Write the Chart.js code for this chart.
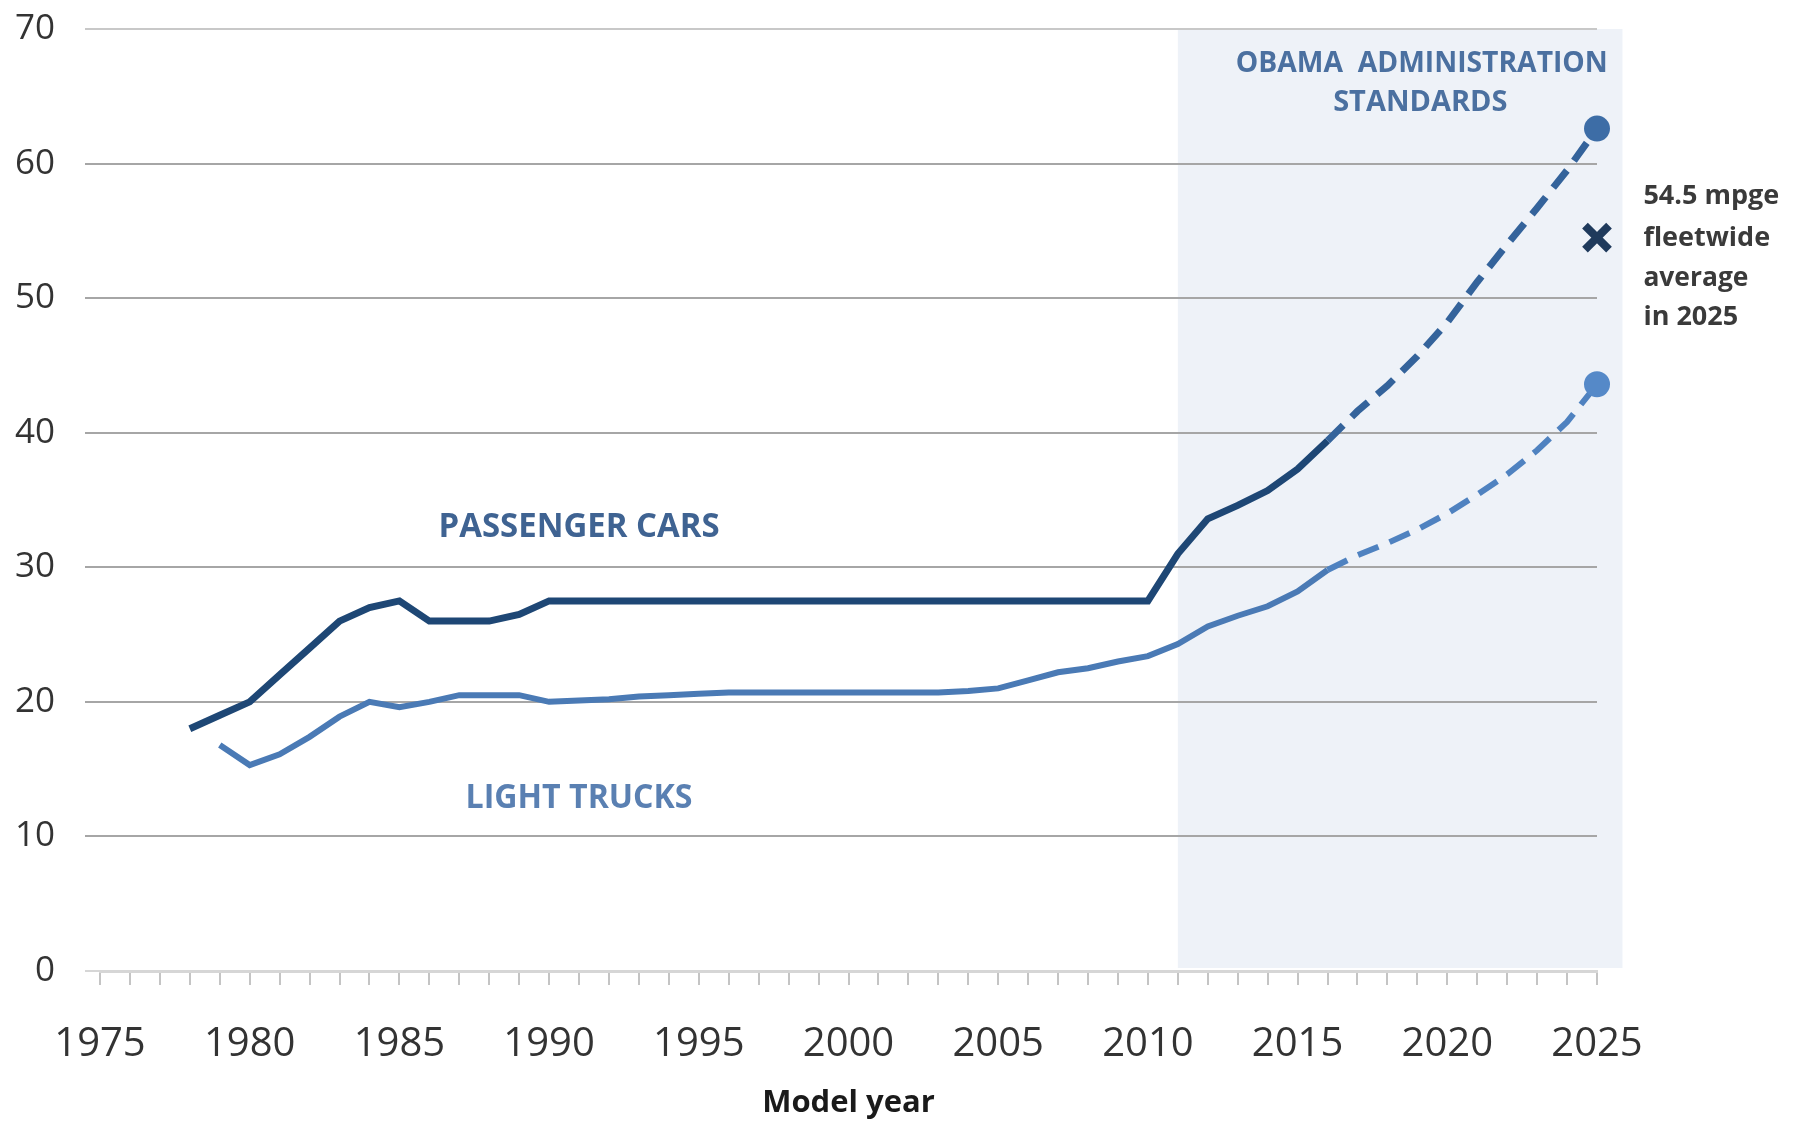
<!DOCTYPE html>
<html>
<head>
<meta charset="utf-8">
<title>Fuel economy standards</title>
<script src="https://cdn.jsdelivr.net/npm/chart.js@4.4.1/dist/chart.umd.min.js"></script>
<style>
  html, body { margin: 0; padding: 0; background: #ffffff; }
  #wrap { width: 1806px; height: 1125px; }
</style>
</head>
<body>
<div id="wrap"><canvas id="chart" width="1806" height="1125"></canvas></div>
<script>
// Fuel economy standards (mpg) by model year, passenger cars vs light trucks
const ctx = document.querySelector("#chart").getContext("2d");

const carYears = [
  1978, 1979, 1980, 1981, 1982, 1983, 1984, 1985, 1986, 1987, 1988, 1989,
  1990, 1991, 1992, 1993, 1994, 1995, 1996, 1997, 1998, 1999, 2000, 2001,
  2002, 2003, 2004, 2005, 2006, 2007, 2008, 2009, 2010, 2011, 2012, 2013,
  2014, 2015, 2016, 2017, 2018, 2019, 2020, 2021, 2022, 2023, 2024, 2025,
];
const carMpg = [
  18.0, 19.0, 20.0, 22.0, 24.0, 26.0, 27.0, 27.5, 26.0, 26.0, 26.0, 26.5,
  27.5, 27.5, 27.5, 27.5, 27.5, 27.5, 27.5, 27.5, 27.5, 27.5, 27.5, 27.5,
  27.5, 27.5, 27.5, 27.5, 27.5, 27.5, 27.5, 27.5, 27.5, 31.0, 33.6, 34.6,
  35.7, 37.3, 39.4, 41.6, 43.5, 45.7, 48.2, 51.2, 54.0, 56.7, 59.5, 62.6,
];

const truckYears = [
  1979, 1980, 1981, 1982, 1983, 1984, 1985, 1986, 1987, 1988, 1989, 1990,
  1991, 1992, 1993, 1994, 1995, 1996, 1997, 1998, 1999, 2000, 2001, 2002,
  2003, 2004, 2005, 2006, 2007, 2008, 2009, 2010, 2011, 2012, 2013, 2014,
  2015, 2016, 2017, 2018, 2019, 2020, 2021, 2022, 2023, 2024, 2025,
];
const truckMpg = [
  16.8, 15.3, 16.1, 17.4, 18.9, 20.0, 19.6, 20.0, 20.5, 20.5, 20.5, 20.0,
  20.1, 20.2, 20.4, 20.5, 20.6, 20.7, 20.7, 20.7, 20.7, 20.7, 20.7, 20.7,
  20.7, 20.8, 21.0, 21.6, 22.2, 22.5, 23.0, 23.4, 24.3, 25.6, 26.4, 27.1,
  28.2, 29.8, 30.9, 31.8, 32.8, 34.0, 35.4, 36.9, 38.7, 40.8, 43.6,
];

const fleetYear = [2025];
const fleetMpg = [54.5];

const yTicks = [0, 10, 20, 30, 40, 50, 60, 70];
const projectedFrom = 2016; // standards after this year drawn dashed
const shadeFrom = 2011;
const shadeTo = 2025.85;

// text notes, placed in data units
const notes = [
  { text: "PASSENGER CARS", x: 1991, y: 33.0, color: "#3f6392", size: 34, width: 281, align: "center" },
  { text: "LIGHT TRUCKS", x: 1991, y: 12.85, color: "#5a80b2", size: 34, width: 227, align: "center" },
  { text: "OBAMA  ADMINISTRATION", x: 2019.15, y: 67.45, color: "#4b70a0", size: 29, width: 372, align: "center" },
  { text: "STANDARDS", x: 2019.1, y: 64.55, color: "#4b70a0", size: 29, width: 178, align: "center" },
  { text: "54.5 mpge", x: 2026.55, y: 57.55, color: "#3a3a3a", size: 27, width: 142, align: "left" },
  { text: "fleetwide", x: 2026.55, y: 54.45, color: "#3a3a3a", size: 27, width: 132, align: "left" },
  { text: "average", x: 2026.55, y: 51.45, color: "#3a3a3a", size: 27, width: 105, align: "left" },
  { text: "in 2025", x: 2026.55, y: 48.6, color: "#3a3a3a", size: 27, width: 99, align: "left" },
];

function toPoints(xs, ys) {
  return xs.map((x, i) => ({ x, y: ys[i] }));
}

const dashed = (c) => c.p0.parsed.x >= projectedFrom;

const overlay = {
  id: "overlay",
  beforeDraw(chart) {
    const { ctx, chartArea, scales } = chart;
    const left = scales.x.getPixelForValue(shadeFrom);
    const right = scales.x.getPixelForValue(shadeTo);
    ctx.save();
    ctx.fillStyle = "#eef2f8";
    ctx.fillRect(left, chartArea.top, right - left, chartArea.bottom - chartArea.top - 3);
    ctx.restore();
  },
  afterDraw(chart) {
    const { ctx, scales } = chart;
    ctx.save();
    ctx.textBaseline = "middle";
    for (const n of notes) {
      ctx.font = `bold ${n.size}px "Open Sans", "Noto Sans", sans-serif`;
      ctx.fillStyle = n.color;
      ctx.textAlign = n.align;
      ctx.fillText(n.text, scales.x.getPixelForValue(n.x), scales.y.getPixelForValue(n.y), n.width);
    }
    ctx.restore();
  },
};

const chart = new Chart(ctx, {
  type: "line",
  data: {
    datasets: [
      {
        label: "54.5 mpge fleetwide average in 2025",
        data: toPoints(fleetYear, fleetMpg),
        showLine: false,
        clip: false,
        pointStyle: "crossRot",
        pointRadius: 17,
        pointBorderWidth: 8,
        pointBorderColor: "#1f3a5c",
        pointBackgroundColor: "#1f3a5c",
      },
      {
        label: "Passenger cars",
        data: toPoints(carYears, carMpg),
        clip: false,
        borderColor: "#1e4775",
        borderWidth: 7,
        tension: 0,
        pointRadius: (c) => (c.dataIndex === carMpg.length - 1 ? 13 : 0),
        pointBackgroundColor: "#3d6da6",
        pointBorderWidth: 0,
        segment: {
          borderDash: (c) => (dashed(c) ? [22, 12] : undefined),
          borderColor: (c) => (dashed(c) ? "#34639b" : undefined),
        },
      },
      {
        label: "Light trucks",
        data: toPoints(truckYears, truckMpg),
        clip: false,
        borderColor: "#4a7ab5",
        borderWidth: 6,
        tension: 0,
        pointRadius: (c) => (c.dataIndex === truckMpg.length - 1 ? 13 : 0),
        pointBackgroundColor: "#5589c8",
        pointBorderWidth: 0,
        segment: {
          borderDash: (c) => (dashed(c) ? [22, 12] : undefined),
          borderColor: (c) => (dashed(c) ? "#4f82c0" : undefined),
        },
      },
    ],
  },
  options: {
    responsive: false,
    animation: false,
    devicePixelRatio: 1,
    layout: { padding: { left: 0, right: 209, top: 29, bottom: 0 } },
    plugins: {
      legend: { display: false },
      tooltip: { enabled: false },
    },
    scales: {
      x: {
        type: "linear",
        min: 1975,
        max: 2025,
        afterFit: (s) => { s.height = 154; },
        grid: {
          drawOnChartArea: false,
          drawTicks: true,
          tickLength: 14,
          color: "#c4c4c4",
          lineWidth: 2,
        },
        border: { display: true, color: "#d6d6d6", width: 3 },
        ticks: {
          stepSize: 1,
          autoSkip: false,
          maxRotation: 0,
          minRotation: 0,
          padding: 36,
          color: "#333333",
          font: { family: '"Open Sans", "Noto Sans", sans-serif', size: 40 },
          callback: (v) => (v % 5 === 0 ? String(v) : ""),
        },
        title: {
          display: true,
          text: "Model year",
          color: "#1a1a1a",
          font: { family: '"Open Sans", "Noto Sans", sans-serif', size: 31, weight: "bold" },
          padding: { top: 0, bottom: 3 },
        },
      },
      y: {
        min: 0,
        max: 70,
        afterFit: (s) => {
          s.width = 100;
          s.paddingTop = 0;
          s.paddingBottom = 0;
        },
        afterBuildTicks: (s) => { s.ticks = yTicks.map((v) => ({ value: v })); },
        grid: {
          drawTicks: true,
          tickLength: 15,
          lineWidth: 2,
          color: (c) => (c.tick.value === 0 ? "#d6d6d6" : c.tick.value === 70 ? "#c8c8c8" : "#a6a6a6"),
        },
        border: { display: false },
        ticks: {
          padding: 30,
          color: "#333333",
          font: { family: '"Open Sans", "Noto Sans", sans-serif', size: 35 },
        },
      },
    },
  },
  plugins: [overlay],
});
</script>
</body>
</html>
